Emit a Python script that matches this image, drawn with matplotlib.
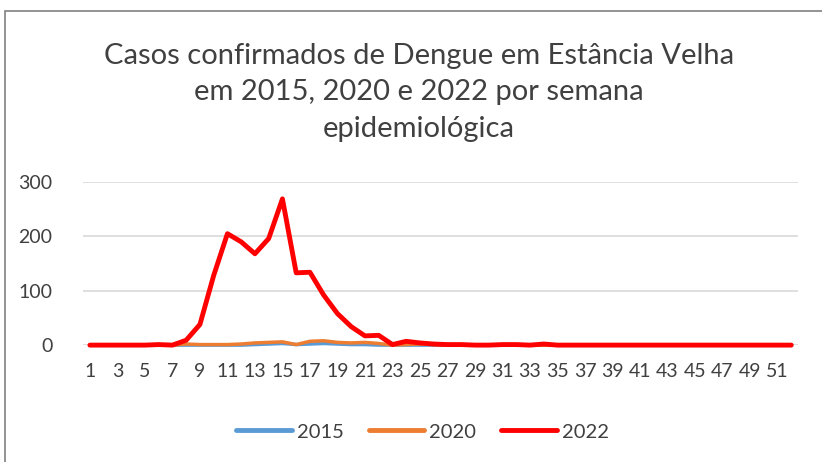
import matplotlib.pyplot as plt
from matplotlib.patches import Rectangle

weeks = list(range(1, 53))

casos_2015 = [0] * 12 + [1, 2, 3, 1, 2, 3, 2, 1, 1] + [0] * 31
casos_2020 = ([0] * 7 + [2, 1, 1, 1, 2, 4, 5, 6, 1, 7, 8, 5, 4, 5, 3, 0, 1, 2, 1]
              + [0] * 26)
casos_2022 = ([0, 0, 0, 0, 0, 1, 0, 9, 38, 128, 205, 190, 168, 196, 269, 133, 134,
               92, 58, 34, 17, 18, 1, 7, 4, 2, 1, 1, 0, 0, 1, 1, 0, 2]
              + [0] * 18)

series = [("2015", casos_2015, "#5b9bd5", 2.5),
          ("2020", casos_2020, "#ed7d31", 2.5),
          ("2022", casos_2022, "#ff0000", 3.5)]

plt.rcParams['font.family'] = ['Lato', 'DejaVu Sans']
text_color = "#404040"

fig = plt.figure(figsize=(8.22, 4.62), dpi=100)
ax = fig.add_axes([0.101, 0.253, 0.870, 0.353])

for label, vals, color, lw in series:
    ax.plot(weeks, vals, color=color, linewidth=lw, label=label,
            solid_capstyle='round', clip_on=False, zorder=3)

ax.set_xlim(0.5, 52.5)
ax.set_ylim(0, 300)
ax.set_yticks([0, 100, 200, 300])
ax.set_xticks(weeks[::2])
ax.grid(axis='y', color='#d9d9d9', linewidth=1.2)
ax.set_axisbelow(True)
for s in ax.spines.values():
    s.set_visible(False)
ax.tick_params(length=0, labelsize=14, colors=text_color)
ax.tick_params(axis='x', pad=13)
ax.tick_params(axis='y', pad=22)

fig.text(0.51, 0.80, "Casos confirmados de Dengue em Estância Velha\n"
         "em 2015, 2020 e 2022 por semana\nepidemiológica",
         ha='center', va='center', fontsize=21, color=text_color,
         linespacing=1.5)

leg = fig.legend(loc='center', bbox_to_anchor=(0.514, 0.065), ncol=3,
                 frameon=False, fontsize=14.5, labelcolor=text_color,
                 handlelength=2.75, columnspacing=1.25, handletextpad=0.25)
for h in leg.get_lines():
    h.set_linewidth(3.5)

fig.patches.append(Rectangle((5 / 822, -0.1), 1.0, 1.1 - 11 / 462,
                             transform=fig.transFigure, fill=False,
                             edgecolor='#808080', linewidth=1.2))

fig.savefig("out.png", dpi=100)
